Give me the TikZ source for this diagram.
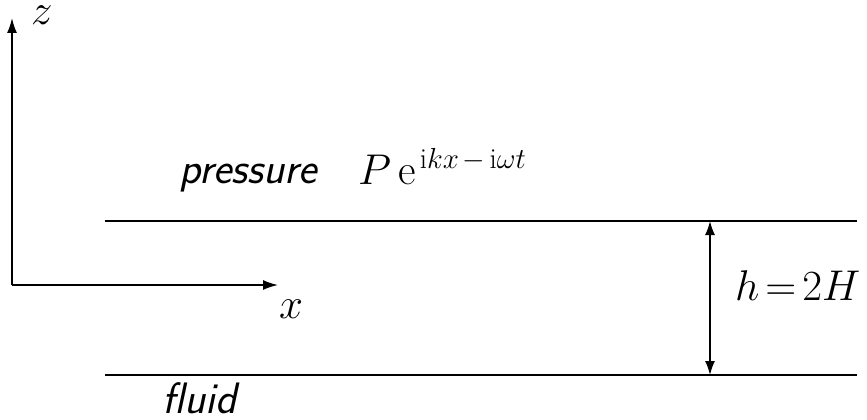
\documentclass[tikz,border=0pt]{standalone}
\usepackage{fix-cm}
\usepackage{fontspec}
\usetikzlibrary{arrows.meta}
\begin{document}
\begin{tikzpicture}[x=1pt,y=-1pt,
  axis/.style={line width=1.6pt,-{Latex[length=15pt,width=10pt]}},
  wall/.style={line width=1.6pt},
  gap/.style={line width=1.6pt,{Latex[length=14pt,width=10pt]}-{Latex[length=14pt,width=10pt]}},
  lbl/.style={inner sep=0pt,anchor=base west,font=\fontsize{43}{50}\selectfont},
  sflbl/.style={inner sep=0pt,anchor=base west,font=\fontsize{44}{50}\selectfont\sffamily\itshape}]
\useasboundingbox (0,0) rectangle (867,420);
\coordinate (o) at (12,285);
\coordinate (ztip) at (12,18);
\coordinate (xtip) at (278,285);
\draw[axis] (o) -- (ztip);
\draw[axis] (o) -- (xtip);
\coordinate (t1) at (105,221);
\coordinate (t2) at (857,221);
\coordinate (b1) at (105,375);
\coordinate (b2) at (857,375);
\draw[wall] (t1) -- (t2);
\draw[wall] (b1) -- (b2);
\coordinate (gt) at (710,221);
\coordinate (gb) at (710,375);
\draw[gap] (gt) -- (gb);
\node[lbl] (zl) at (31,25) {$z$};
\node[lbl] (xl) at (279,318) {$x$};
\node[lbl] (hl) at (735,300) {$h\mskip2.5mu{=}\mskip2.5mu 2H$};
\node[sflbl] (pl) at (179,183) {pressure};
\node[lbl] (pe) at (358,184) {$P\,\mathrm{e}$\kern4pt\raisebox{16pt}{\fontsize{29}{34}\selectfont$\mathrm{i}kx\mskip2.5mu{-}\mskip2.5mu\mathrm{i}\omega t$}};
\node[sflbl] (fl) at (162,413) {fluid};
\end{tikzpicture}
\end{document}
